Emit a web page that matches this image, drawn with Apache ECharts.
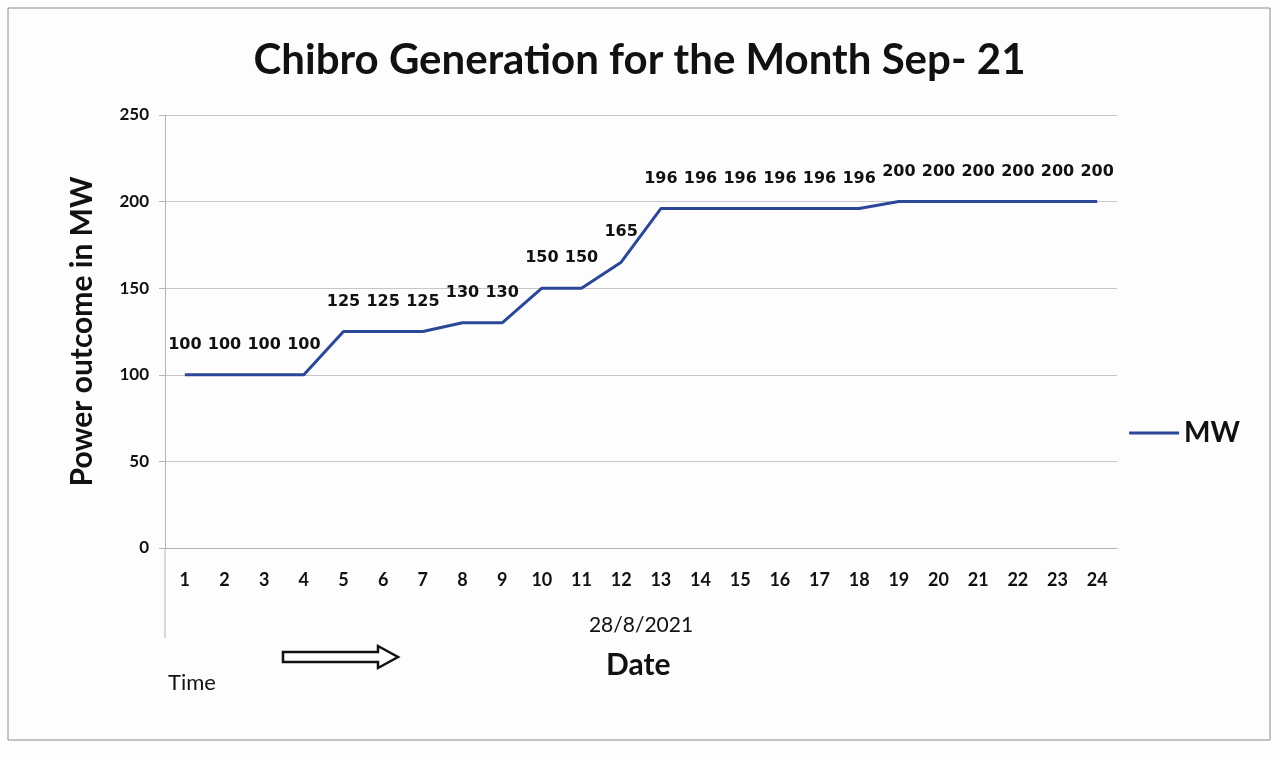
<!DOCTYPE html>
<html>
<head>
<meta charset="utf-8">
<title>Chibro Generation</title>
<script src="https://cdn.jsdelivr.net/npm/echarts@6/dist/echarts.min.js"></script>
<style>
  html, body { margin: 0; padding: 0; background: #ffffff; }
  #chart { width: 1279px; height: 760px; }
</style>
</head>
<body>
<div id="chart"></div>
<script>
  // hours of the day (x axis)
  const hours = ['1', '2', '3', '4', '5', '6', '7', '8', '9', '10', '11', '12',
    '13', '14', '15', '16', '17', '18', '19', '20', '21', '22', '23', '24']
  // generation in MW
  const mw = [100, 100, 100, 100, 125, 125, 125, 130, 130, 150, 150, 165,
    196, 196, 196, 196, 196, 196, 200, 200, 200, 200, 200, 200]
  const yTicks = [0, 50, 100, 150, 200, 250]

  const font = 'Lato, "Open Sans", sans-serif'
  const labelFont = '"DejaVu Sans", sans-serif'
  const lineColor = '#2b4797'

  const chart = echarts.init(document.getElementById('chart'))
  const option = {
    backgroundColor: '#fdfdfd',
    animation: false,
    title: {
      text: 'Chibro Generation for the Month Sep- 21',
      left: 'center',
      top: 34,
      textStyle: { fontFamily: font, fontSize: 42, fontWeight: 'bold', color: '#111' }
    },
    legend: {
      data: ['MW'],
      right: 34,
      top: 414,
      icon: 'rect',
      itemWidth: 50,
      itemHeight: 3,
      itemGap: 4,
      textStyle: { fontFamily: font, fontSize: 28, fontWeight: 'bold', color: '#111' }
    },
    grid: { left: 165, right: 162, top: 115, bottom: 212 },
    xAxis: {
      type: 'category',
      data: hours,
      boundaryGap: true,
      name: '28/8/2021',
      nameLocation: 'middle',
      nameGap: 67,
      nameTextStyle: { fontFamily: font, fontSize: 21, color: '#111' },
      axisLine: { lineStyle: { color: '#b9b2b9' } },
      axisTick: { show: false },
      axisLabel: { fontFamily: font, fontSize: 18, fontWeight: 'bold', color: '#111', margin: 23 }
    },
    yAxis: {
      type: 'value',
      min: 0,
      max: yTicks[yTicks.length - 1],
      interval: 50,
      name: 'Power outcome in MW',
      nameLocation: 'middle',
      nameGap: 68,
      nameTextStyle: { fontFamily: font, fontSize: 30, fontWeight: 'bold', color: '#111' },
      axisLine: { show: true, lineStyle: { color: '#b9b2b9' } },
      axisTick: { show: true, length: 6, lineStyle: { color: '#b9b2b9' } },
      axisLabel: { fontFamily: font, fontSize: 17, fontWeight: 'bold', color: '#111', margin: 16 },
      splitLine: { lineStyle: { color: '#cbc3cb' } }
    },
    series: [{
      name: 'MW',
      type: 'line',
      data: mw,
      symbol: 'circle',
      symbolSize: 0,
      showSymbol: true,
      lineStyle: { color: lineColor, width: 3 },
      itemStyle: { color: lineColor },
      label: {
        show: true,
        position: 'top',
        distance: 22,
        fontFamily: labelFont,
        fontSize: 16,
        fontWeight: 'bold',
        color: '#111'
      },
      labelLayout: { hideOverlap: false }
    }],
    graphic: [
      // outer chart border
      { type: 'rect', shape: { x: 8, y: 8, width: 1262, height: 732 },
        style: { fill: 'none', stroke: '#8a8a8a', lineWidth: 1 } },
      // plot area left edge extends below the axis
      { type: 'line', shape: { x1: 165, y1: 548, x2: 165, y2: 638 },
        style: { stroke: '#b9b2b9', lineWidth: 1 } },
      { type: 'text', left: 606, top: 650,
        style: { text: 'Date', fontFamily: font, fontSize: 30, fontWeight: 'bold', fill: '#111' } },
      { type: 'text', left: 168, top: 672,
        style: { text: 'Time', fontFamily: font, fontSize: 22, fill: '#111' } },
      // hollow arrow
      { type: 'polygon',
        shape: { points: [[283, 652], [378, 652], [378, 646], [398, 657], [378, 668], [378, 662], [283, 662]] },
        style: { fill: '#fff', stroke: '#111', lineWidth: 2.5 } }
    ]
  }
  chart.setOption(option)
</script>
</body>
</html>
